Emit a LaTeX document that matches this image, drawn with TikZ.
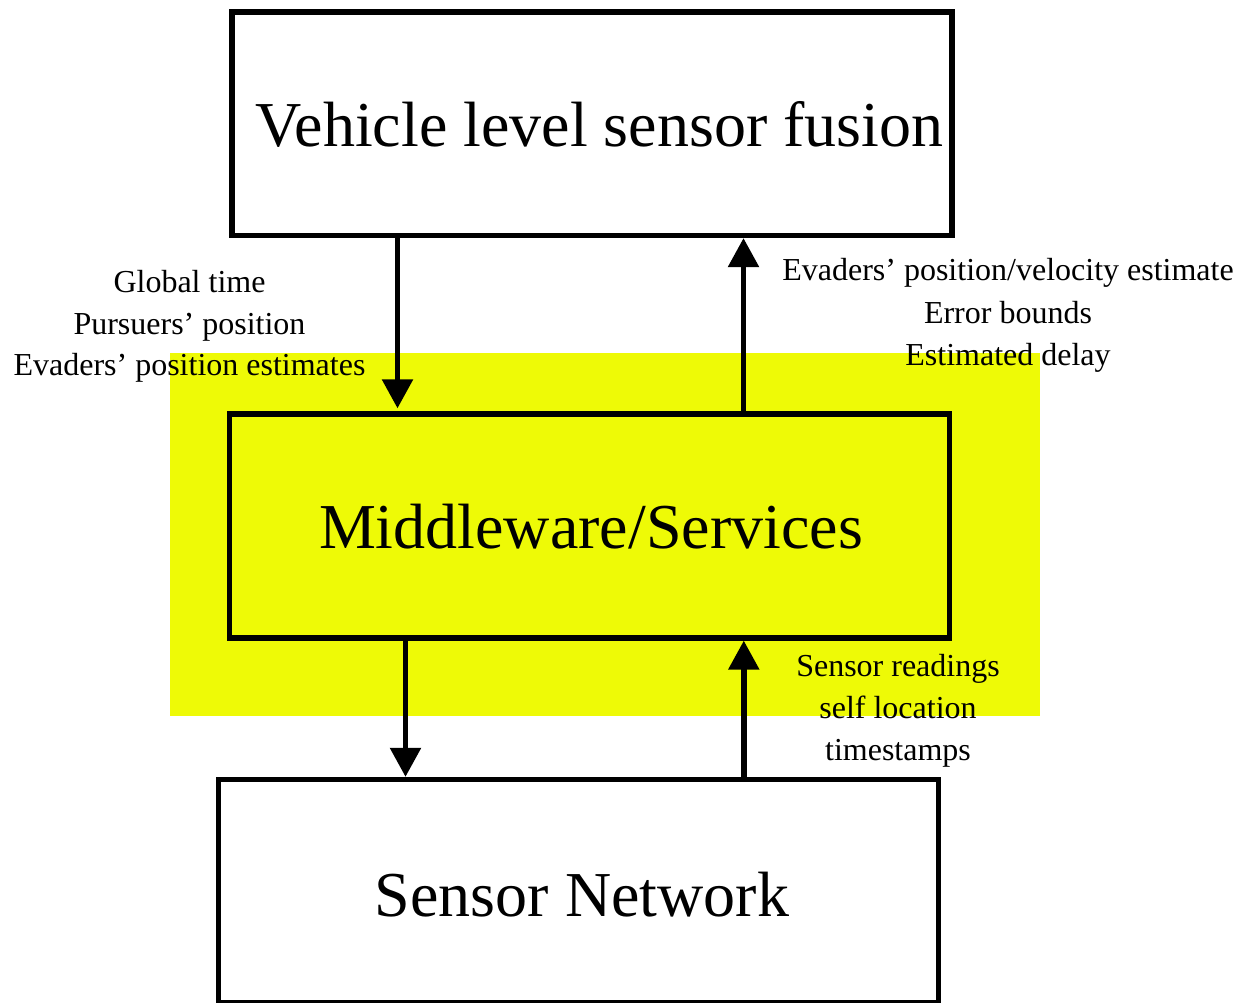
\documentclass[tikz,border=0pt]{standalone}
\usepackage{fontspec}
\setmainfont{Liberation Serif}
\usetikzlibrary{arrows.meta}

\definecolor{hilite}{RGB}{238,250,6}

\tikzset{
  layerbox/.style={draw=black, line width=5.3pt, rectangle, inner sep=0pt,
                   minimum width=720pt, minimum height=223.5pt},
  bigtext/.style={anchor=base, inner sep=0pt, font=\fontsize{64}{76}\selectfont},
  flowtext/.style={anchor=base, inner sep=0pt, font=\fontsize{32}{42}\selectfont},
  flow/.style={draw=black, line width=5.5pt,
               -{Triangle[length=29pt,width=30pt]}}
}

\begin{document}
\begin{tikzpicture}[x=1pt,y=-1pt]
  \useasboundingbox (0,0) rectangle (1240,1003);

  % highlighted region around the middleware layer
  \fill[hilite] (170,352.7) rectangle (1040,715.7);

  % the three layers
  \node[layerbox, fill=white] (top) at (592,123.7) {};
  \node[layerbox, minimum height=224pt] (mid) at (589.3,526) {};
  \node[layerbox, fill=white, minimum height=223pt] (bot) at (578.7,891) {};

  \node[bigtext] (toptext) at (599.5,147) {Vehicle level sensor fusion};
  \node[bigtext] (midtext) at (591,548.5) {Middleware/Services};
  \node[bigtext] (bottext) at (582,916.5) {Sensor Network};

  % data flowing between the layers
  \draw[flow, shorten >=3pt] ([xshift=-194.5pt]top.south) -- ([xshift=-194.5pt]top.south |- mid.north);
  \draw[flow] ([xshift=154.2pt]mid.north) -- ([xshift=154.2pt]mid.north |- top.south);
  \draw[flow] ([xshift=-183.8pt]mid.south) -- ([xshift=-183.8pt]mid.south |- bot.north);
  \draw[flow] ([xshift=165.1pt]bot.north) -- ([xshift=165.1pt]bot.north |- mid.south);

  % labels of the flows
  \node[flowtext] (dnA) at (189.5,292.5) {Global time};
  \node[flowtext] (dnB) at (189.5,334) {Pursuers' position};
  \node[flowtext] (dnC) at (189.5,375.7) {Evaders' position estimates};

  \node[flowtext] (upA) at (1008,280.7) {Evaders' position/velocity estimate};
  \node[flowtext] (upB) at (1008,323) {Error bounds};
  \node[flowtext] (upC) at (1008,365.7) {Estimated delay};

  \node[flowtext] (snA) at (898,676) {Sensor readings};
  \node[flowtext] (snB) at (898,718) {self location};
  \node[flowtext] (snC) at (898,760) {timestamps};
\end{tikzpicture}
\end{document}
